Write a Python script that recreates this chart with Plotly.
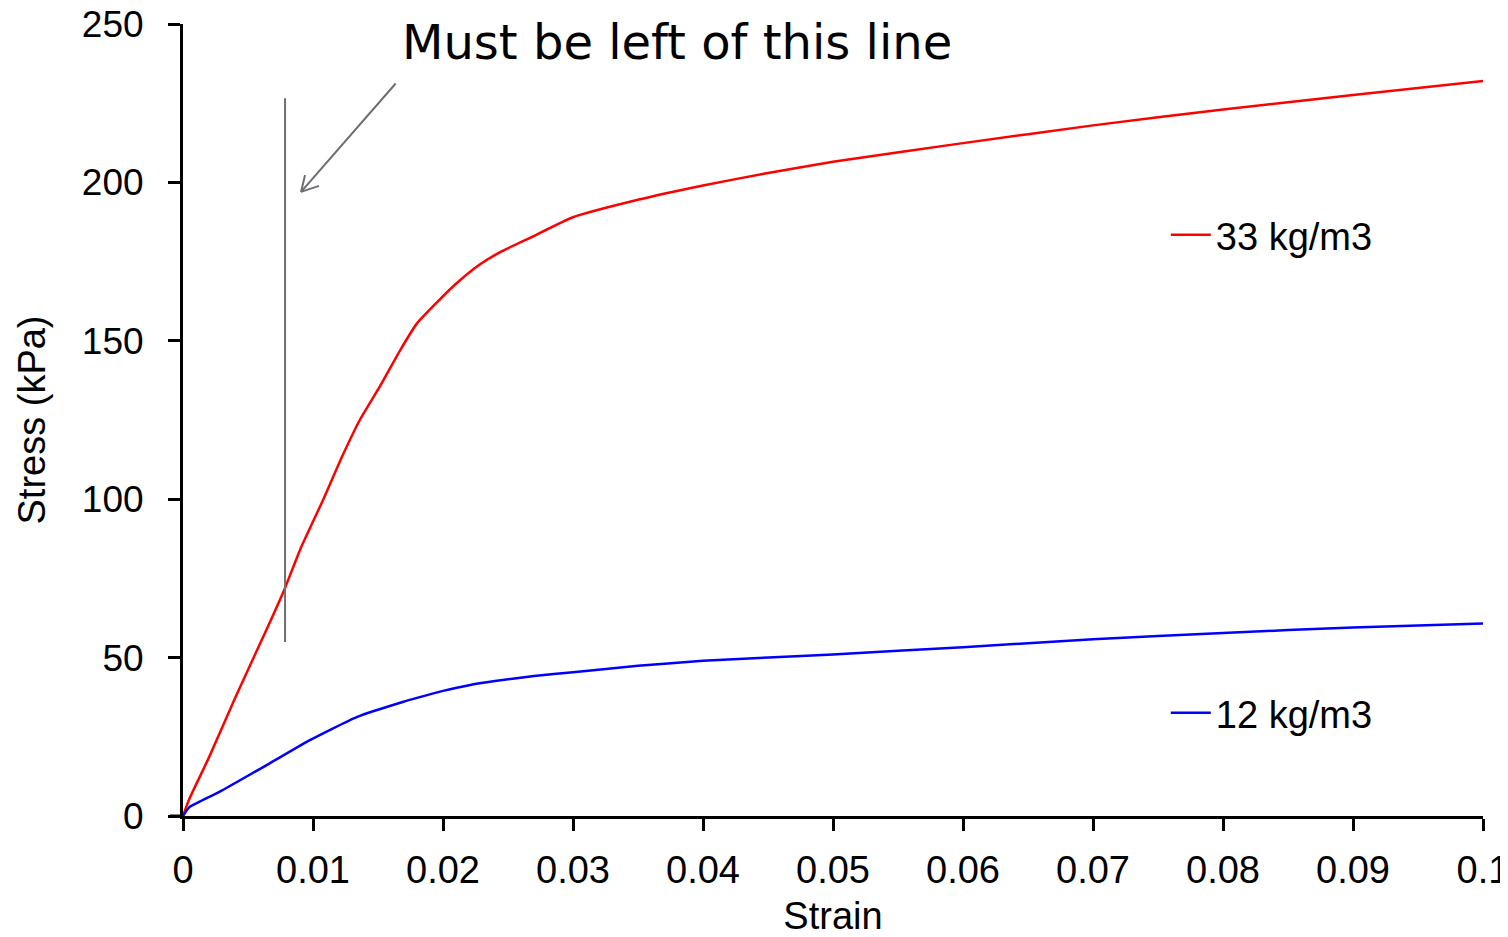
import plotly.graph_objects as go

# Data
strain_33 = [0, 0.0005, 0.002, 0.004, 0.0065, 0.00785, 0.009, 0.0108, 0.0123, 0.0136,
             0.0152, 0.0167, 0.018, 0.0195, 0.021, 0.0228, 0.0244, 0.0267, 0.03, 0.035, 0.04,
             0.045, 0.05, 0.06, 0.07, 0.08, 0.09, 0.1]
stress_33 = [0, 5.5, 18.5, 37.2, 59.5, 72, 84, 100, 114, 125,
             136, 147, 155.5, 162, 168, 174, 178, 182.5, 189, 194.5, 199,
             203, 206.5, 212.4, 218, 223, 227.6, 232]

strain_12 = [0, 0.0005, 0.0028, 0.0067, 0.0098, 0.0134, 0.0169, 0.018, 0.02, 0.022,
             0.024, 0.027, 0.03, 0.035, 0.04, 0.05, 0.06, 0.07, 0.08, 0.09, 0.1]
stress_12 = [0, 2.8, 7.6, 16.7, 24, 31.3, 36, 37.3, 39.5, 41.3,
             42.6, 44.2, 45.4, 47.4, 49, 51, 53.3, 55.8, 57.8, 59.5, 60.8]

x_ticks = [0, 0.01, 0.02, 0.03, 0.04, 0.05, 0.06, 0.07, 0.08, 0.09, 0.1]
x_tick_labels = ["0", "0.01", "0.02", "0.03", "0.04", "0.05", "0.06", "0.07", "0.08", "0.09", "0.1"]
y_ticks = [0, 50, 100, 150, 200, 250]
y_tick_labels = ["0", "50", "100", "150", "200", "250"]

marker_strain = 0.00785
marker_stress = [54.9, 226.6]
arrow_head = (0.00908, 197)
arrow_tail = (0.01646, 231.7)

FONT = "Liberation Sans, Arial, sans-serif"
GREY = "#6d6f72"

fig = go.Figure()
fig.add_trace(go.Scatter(x=strain_33, y=stress_33, mode="lines", name="33 kg/m3",
                         line=dict(color="#ff0000", width=2.5, shape="spline", smoothing=0.5),
                         legend="legend"))
fig.add_trace(go.Scatter(x=strain_12, y=stress_12, mode="lines", name="12 kg/m3",
                         line=dict(color="#0000ff", width=2.5, shape="spline", smoothing=0.5),
                         legend="legend2"))

# vertical limit line
fig.add_shape(type="line", xref="x", yref="y", x0=marker_strain, x1=marker_strain,
              y0=marker_stress[0], y1=marker_stress[1], line=dict(color=GREY, width=2))
# x-axis line extension to the left of the y axis
fig.add_shape(type="line", xref="paper", yref="paper", x0=-0.01, x1=0, y0=0, y1=0,
              line=dict(color="black", width=3))

# arrow shaft
fig.add_annotation(x=arrow_head[0], y=arrow_head[1], ax=arrow_tail[0], ay=arrow_tail[1],
                   xref="x", yref="y", axref="x", ayref="y", text="", showarrow=True,
                   arrowhead=0, arrowwidth=2, arrowcolor=GREY)
# open arrowhead (two short strokes anchored at the arrow tip)
for dx, dy in [(18, 6), (4, 17)]:
    fig.add_shape(type="line", xref="x", yref="y", xsizemode="pixel", ysizemode="pixel",
                  xanchor=arrow_head[0], yanchor=arrow_head[1], x0=0, y0=0, x1=dx, y1=dy,
                  line=dict(color=GREY, width=2))

fig.add_annotation(x=0.1669, y=0.977, xref="paper", yref="paper", xanchor="left", yanchor="middle",
                   text="Must be left of this line", showarrow=False,
                   font=dict(family="DejaVu Sans, Verdana, sans-serif", size=48, color="black"))

legend_common = dict(xanchor="left", yanchor="middle", bgcolor="rgba(0,0,0,0)",
                     font=dict(family=FONT, size=38, color="black"), itemwidth=40,
                     borderwidth=0)
fig.update_layout(
    width=1500, height=929,
    margin=dict(l=175, r=25, t=16, b=121, autoexpand=False),
    paper_bgcolor="white", plot_bgcolor="white",
    showlegend=True,
    legend=dict(x=0.756, y=0.7336, **legend_common),
    legend2=dict(x=0.756, y=0.130, **legend_common),
    xaxis=dict(range=[0, 0.1], tickvals=x_ticks, ticktext=x_tick_labels, automargin=False,
               showgrid=False, zeroline=False, showline=True, linecolor="black", linewidth=3,
               ticks="outside", ticklen=12, tickwidth=3, tickcolor="black",
               ticklabeloverflow="allow",
               tickfont=dict(family=FONT, size=38, color="black"), ticklabelstandoff=6,
               title=dict(text="Strain", font=dict(family=FONT, size=38, color="black"), standoff=18)),
    yaxis=dict(range=[0, 250], tickvals=y_ticks, ticktext=y_tick_labels, automargin=False,
               showgrid=False, zeroline=False, showline=True, linecolor="black", linewidth=3,
               ticks="outside", ticklen=12, tickwidth=3, tickcolor="black",
               ticklabeloverflow="allow",
               tickfont=dict(family=FONT, size=37, color="black"), ticklabelstandoff=17,
               title=dict(text="Stress (kPa)", font=dict(family=FONT, size=38, color="black"), standoff=25)),
)

fig.write_html("out.html")
